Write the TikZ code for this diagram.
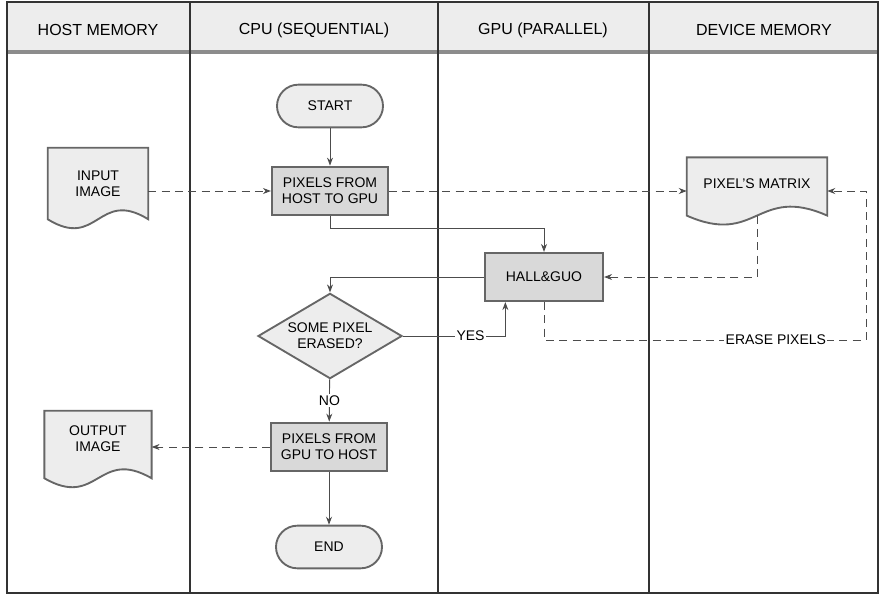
\documentclass[tikz,border=0pt]{standalone}
\usepackage{fontspec}
\setmainfont{Liberation Sans}
\usetikzlibrary{shapes.geometric,arrows.meta,backgrounds}

% outline of a document symbol round a named node
\newcommand{\docshape}[1]{%
  \draw[docline] (#1.north west) -- (#1.north east) -- ([yshift=6.75pt]#1.south east)
    .. controls ([yshift=30pt]#1.south) and ([yshift=-16.5pt]#1.south) .. ([yshift=6.75pt]#1.south west) -- cycle;}

\begin{document}
\begin{tikzpicture}[x=0.75pt, y=-0.75pt,
  font=\fontsize{10.5}{12}\selectfont,
  lane/.style={line width=2pt, draw=black!80},
  head/.style={font=\fontsize{12}{14}\selectfont},
  proc/.style={draw=black!60, line width=1.6pt, fill=black!15, align=center, minimum width=87pt, minimum height=36.5pt, inner sep=2pt},
  term/.style={draw=black!60, line width=1.4pt, fill=black!7, rounded corners=16pt, minimum width=79.5pt, minimum height=32pt},
  dec/.style={diamond, aspect=1.7, draw=black!60, line width=1.4pt, fill=black!7, align=center, minimum width=108pt, minimum height=64pt, inner sep=0pt},
  doc/.style={align=center, inner sep=0pt, text height=10pt},
  docline/.style={draw=black!60, line width=1.4pt, fill=black!7},
  flow/.style={draw=black!70, line width=0.7pt, -{Stealth[length=6pt,width=4.5pt]}},
  data/.style={flow, dash pattern=on 6pt off 4pt},
  tag/.style={fill=white, inner sep=1pt}
]
\useasboundingbox (0,0) rectangle (884,596);

% swimlanes
\fill[black!7] (7,2) rectangle (878,52);
\draw[line width=2.5pt, black!45] (7,52) -- (878,52);
\draw[lane] (190,2) -- (190,593);
\draw[lane] (438,2) -- (438,593);
\draw[lane] (649,2) -- (649,593);
\draw[lane] (7,2) rectangle (878,593);

\node[head] (hhost) at (98,30) {HOST MEMORY};
\node[head] (hcpu) at (314,30) {CPU (SEQUENTIAL)};
\node[head] (hgpu) at (543,30) {GPU (PARALLEL)};
\node[head] (hdev) at (764,30) {DEVICE MEMORY};

% flow
\node[term] (start) at (330,106) {START};
\node[proc] (h2g) at (330,191) {PIXELS FROM\\HOST TO GPU};
\node[proc, minimum width=88.5pt, minimum height=36pt] (hall) at (544,277) {HALL\&GUO};
\node[dec] (dec) at (330,336) {SOME PIXEL\\ERASED?};
\node[proc] (g2h) at (329,447) {PIXELS FROM\\GPU TO HOST};
\node[term] (stop) at (329,547) {END};

\node[doc, minimum width=75pt, minimum height=60pt, text height=12pt, text depth=0pt] (inimg) at (98,188) {INPUT\\IMAGE};
\node[doc, minimum width=80pt, minimum height=57pt, text depth=7pt] (outimg) at (98,449) {OUTPUT\\IMAGE};
\node[doc, minimum width=105pt, minimum height=50pt, text depth=12pt, text height=7.5pt] (mat) at (757,191) {PIXEL'S MATRIX};
\coordinate (loop) at (866,340);

\begin{scope}[on background layer]
\docshape{inimg}
\docshape{outimg}
\docshape{mat}
\end{scope}

\draw[flow] (start) -- (h2g);
\draw[data] (inimg.east |- h2g) -- (h2g);
\draw[data] (h2g) -- (mat);
\draw[flow] (h2g.south) -- ++(0,12) -| (hall);
\draw[data] ([yshift=6.75pt]mat.south) |- (hall);
\draw[flow] (hall) -| (dec);
\draw[flow] (dec) -| node[tag, pos=.33] {YES} ([xshift=-29pt]hall.south);
\draw[data] (hall) |- node[tag, pos=.86] {ERASE PIXELS} (loop) |- (mat);
\draw[flow] (dec) -- node[tag] {NO} (g2h);
\draw[data] (g2h) -- (outimg.east |- g2h);
\draw[flow] (g2h) -- (stop);
\end{tikzpicture}
\end{document}
